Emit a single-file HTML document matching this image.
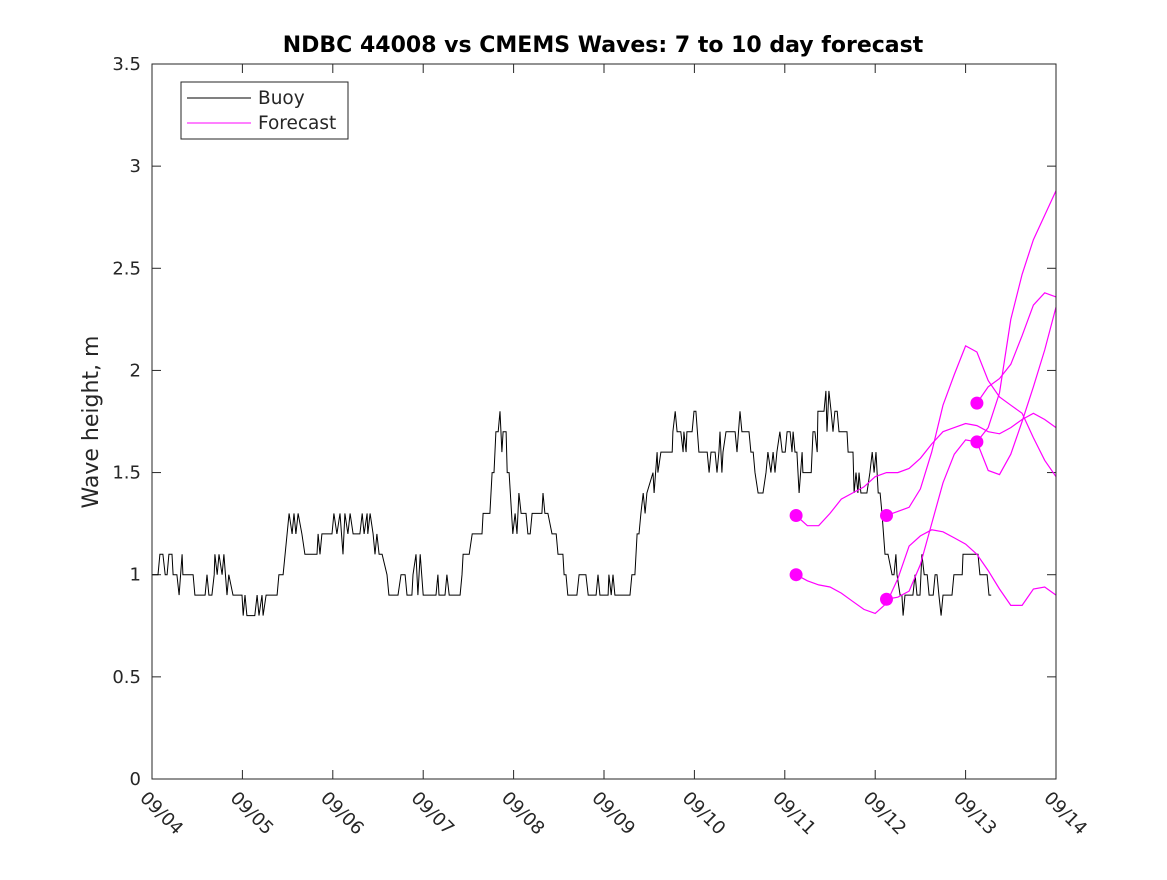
<!DOCTYPE html>
<html><head><meta charset="utf-8"><style>
html,body{margin:0;padding:0;background:#fff;}
svg text{font-family:"DejaVu Sans","Liberation Sans",sans-serif;fill:#262626;}
</style></head><body>
<svg id="chart" width="1167" height="875" viewBox="0 0 1167 875" xmlns="http://www.w3.org/2000/svg">
<rect x="0" y="0" width="1167" height="875" fill="#fff"/>
<text x="603" y="52" text-anchor="middle" font-size="22" font-weight="bold" style="fill:#000">NDBC 44008 vs CMEMS Waves: 7 to 10 day forecast</text>
<text transform="translate(98,422) rotate(-90)" text-anchor="middle" font-size="22">Wave height, m</text>
<g id="axes"></g>
<g id="series"></g>
<rect x="152" y="64" width="904" height="715" fill="none" stroke="#262626" stroke-width="1"/>
<g>
<rect x="181" y="82" width="167" height="57" fill="#fff" stroke="#262626" stroke-width="1"/>
<line x1="187" y1="98" x2="251" y2="98" stroke="#000" stroke-width="1"/>
<text x="258" y="104" font-size="18.5">Buoy</text>
<line x1="187" y1="123" x2="251" y2="123" stroke="#ff00ff" stroke-width="1"/>
<text x="258" y="129" font-size="18.5">Forecast</text>
</g>
</svg>
<script>
const yTicks=[0,0.5,1,1.5,2,2.5,3,3.5];
const yTickLabels=["0","0.5","1","1.5","2","2.5","3","3.5"];
const xTickLabels=["09/04","09/05","09/06","09/07","09/08","09/09","09/10","09/11","09/12","09/13","09/14"];
const buoyHours=[0,1.6,2.1,2.9,3.5,4.0,4.5,5.3,5.6,6.6,7.2,8.0,8.2,10.9,11.4,14.1,14.6,15.1,15.9,16.5,16.7,17.3,17.8,18.6,19.1,19.9,20.4,21.5,23.9,24.2,24.7,25.2,27.3,27.9,28.4,29.2,29.5,30.3,33.2,33.7,34.8,36.4,37.2,37.7,38.2,38.8,39.8,40.6,43.8,44.1,44.6,45.1,47.8,48.3,49.1,49.9,50.7,51.2,52.0,52.6,53.4,55.2,55.8,56.3,57.1,57.3,57.9,58.7,59.2,59.7,60.3,61.1,62.4,62.9,65.3,66.1,67.2,67.7,69.0,69.3,70.1,70.6,71.2,72.0,75.4,75.9,76.2,77.8,78.3,78.9,81.8,82.3,82.6,84.2,85.0,87.6,87.9,89.7,90.3,90.8,91.3,91.9,92.4,92.9,93.2,94.0,94.3,94.8,95.8,96.4,96.9,97.4,98.0,99.3,99.8,100.4,100.9,103.5,103.8,104.3,105.1,106.2,107.3,107.8,109.1,109.4,109.9,110.4,112.8,113.4,115.2,115.8,117.9,118.4,118.9,121.1,121.3,121.9,122.4,122.9,126.9,127.4,128.2,128.8,129.3,129.8,130.4,130.9,131.4,133.0,133.3,134.1,134.3,135.1,138.1,138.3,138.9,139.4,140.4,141.0,141.2,141.8,142.0,143.4,143.9,144.4,145.2,147.4,147.9,148.4,149.5,150.0,150.5,150.8,151.3,151.6,152.4,154.8,155.3,156.1,156.6,158.5,159.0,159.6,160.1,160.9,162.2,163.0,163.5,164.3,164.9,165.4,165.9,166.7,167.3,168.1,168.6,169.4,169.9,170.2,170.7,171.2,171.8,172.6,172.8,175.0,175.5,176.0,176.6,176.8,178.4,178.9,179.2,179.7,180.3,180.8,181.3,181.9,182.4,184.5,184.8,185.6,186.1,186.4,186.9,187.4,187.7,188.2,189.8,190.6,191.2,191.7,192.2,192.8,193.3,193.8,194.6,195.4,196.5,197.0,197.5,197.8,198.6,199.1,199.4,199.9,202.0,202.6,203.1,203.9,204.4,205.0,205.8,206.3,207.4,207.9,208.4,208.9,209.5,210.0,212.4,212.9,215.1,215.3,219.3,219.8,221.7,222.2,222.8];
const buoyValues=[1.0,1.0,1.1,1.1,1.0,1.0,1.1,1.1,1.0,1.0,0.9,1.1,1.0,1.0,0.9,0.9,1.0,0.9,0.9,1.0,1.1,1.0,1.1,1.0,1.1,0.9,1.0,0.9,0.9,0.8,0.9,0.8,0.8,0.9,0.8,0.9,0.8,0.9,0.9,1.0,1.0,1.3,1.2,1.3,1.2,1.3,1.2,1.1,1.1,1.2,1.1,1.2,1.2,1.3,1.2,1.3,1.1,1.3,1.2,1.3,1.2,1.2,1.3,1.2,1.3,1.2,1.3,1.2,1.1,1.2,1.1,1.1,1.0,0.9,0.9,1.0,1.0,0.9,0.9,1.0,1.1,0.9,1.1,0.9,0.9,1.0,0.9,0.9,1.0,0.9,0.9,1.0,1.1,1.1,1.2,1.2,1.3,1.3,1.5,1.5,1.7,1.7,1.8,1.6,1.7,1.7,1.5,1.5,1.2,1.3,1.2,1.4,1.3,1.3,1.2,1.2,1.3,1.3,1.4,1.3,1.3,1.2,1.2,1.1,1.1,1.0,1.0,0.9,0.9,1.0,1.0,0.9,0.9,1.0,0.9,0.9,1.0,0.9,1.0,0.9,0.9,1.0,1.0,1.2,1.2,1.3,1.4,1.3,1.4,1.5,1.4,1.6,1.5,1.6,1.6,1.7,1.8,1.7,1.7,1.6,1.7,1.6,1.7,1.7,1.8,1.8,1.6,1.6,1.5,1.6,1.6,1.5,1.6,1.7,1.5,1.6,1.7,1.7,1.6,1.8,1.7,1.7,1.6,1.6,1.5,1.4,1.4,1.5,1.6,1.5,1.6,1.5,1.6,1.7,1.6,1.6,1.7,1.7,1.6,1.7,1.6,1.6,1.4,1.6,1.5,1.5,1.7,1.7,1.6,1.8,1.8,1.9,1.7,1.9,1.8,1.7,1.8,1.8,1.7,1.7,1.6,1.6,1.6,1.4,1.5,1.4,1.5,1.4,1.4,1.5,1.6,1.5,1.6,1.4,1.4,1.3,1.1,1.1,1.0,1.0,1.1,1.0,0.9,0.9,0.8,0.9,0.9,1.0,0.9,0.9,1.1,1.0,1.0,0.9,0.9,1.0,1.0,0.9,0.8,0.9,0.9,1.0,1.0,1.1,1.1,1.0,1.0,0.9,0.9];
const f1Hours=[171,174,177,180,183,186,189,192,195,198,201,204,207,210,213,216,219,222,225,228,231,234,237,240];
const f1Values=[1.29,1.24,1.24,1.30,1.37,1.40,1.43,1.48,1.50,1.50,1.52,1.57,1.64,1.70,1.72,1.74,1.73,1.70,1.69,1.72,1.76,1.79,1.76,1.72];
const f2Hours=[171,174,177,180,183,186,189,192,195,198,201,204,207,210,213,216,219,222,225,228,231,234,237,240];
const f2Values=[1.0,0.97,0.95,0.94,0.91,0.87,0.83,0.81,0.86,0.98,1.14,1.19,1.22,1.21,1.18,1.15,1.10,1.02,0.93,0.85,0.85,0.93,0.94,0.90];
const f3Hours=[195,198,201,204,207,210,213,216,219,222,225,228,231,234,237,240];
const f3Values=[1.29,1.31,1.33,1.42,1.60,1.83,1.98,2.12,2.09,1.95,1.87,1.83,1.79,1.67,1.56,1.48];
const f4Hours=[195,198,201,204,207,210,213,216,219,222,225,228,231,234,237,240];
const f4Values=[0.88,0.89,0.92,1.05,1.25,1.45,1.59,1.66,1.65,1.51,1.49,1.59,1.75,1.92,2.10,2.31];
const f5Hours=[219,222,225,228,231,234,237,240];
const f5Values=[1.84,1.92,1.96,2.03,2.17,2.32,2.38,2.36];
const f6Hours=[219,222,225,228,231,234,237,240];
const f6Values=[1.65,1.72,1.89,2.25,2.47,2.64,2.76,2.88];

const X0=152,X1=1056,Y0=779,Y1=64,HMAX=240,VMAX=3.5;
function xs(h){return X0+(X1-X0)*h/HMAX;}
function ys(v){return Y0-(Y0-Y1)*v/VMAX;}
const NS="http://www.w3.org/2000/svg";
function mk(tag,attrs,parent){const e=document.createElementNS(NS,tag);for(const k in attrs)e.setAttribute(k,attrs[k]);parent.appendChild(e);return e;}
const axes=document.getElementById('axes'),series=document.getElementById('series');
yTicks.forEach((v,i)=>{
  const y=ys(v);
  const t1=mk('line',{x1:X0,y1:y,x2:X0+9,y2:y,stroke:'#262626'},axes);
  
  
  const t2=mk('line',{x1:X1-9,y1:y,x2:X1,y2:y,stroke:'#262626'},axes);
  
  
  const lb=mk('text',{x:X0-11,y:y+6,'text-anchor':'end','font-size':18},axes);
  lb.textContent=yTickLabels[i];
  
  
});
xTickLabels.forEach((s,i)=>{
  const x=xs(i*24);
  const t1=mk('line',{x1:x,y1:Y0,x2:x,y2:Y0-9,stroke:'#262626'},axes);
  
  
  const t2=mk('line',{x1:x,y1:Y1,x2:x,y2:Y1+9,stroke:'#262626'},axes);
  
  
  const lb=mk('text',{transform:`translate(${x-13},${Y0+20}) rotate(45)`,'font-size':18},axes);
  lb.textContent=s;
  
  
});
function pts(h,v){return h.map((hh,i)=>xs(hh).toFixed(1)+','+ys(v[i]).toFixed(1)).join(' ');}
const buoy=mk('polyline',{points:pts(buoyHours,buoyValues),fill:'none',stroke:'#000','stroke-width':1,'stroke-linejoin':'miter'},series);


[[f1Hours,f1Values],[f2Hours,f2Values],[f3Hours,f3Values],[f4Hours,f4Values],[f5Hours,f5Values],[f6Hours,f6Values]].forEach((f,i)=>{
  const l=mk('polyline',{points:pts(f[0],f[1]),fill:'none',stroke:'#ff00ff','stroke-width':1.2},series);
  
  
  const c=mk('circle',{cx:xs(f[0][0]),cy:ys(f[1][0]),r:6.5,fill:'#ff00ff'},series);
  
  
});
</script>
</body></html>
